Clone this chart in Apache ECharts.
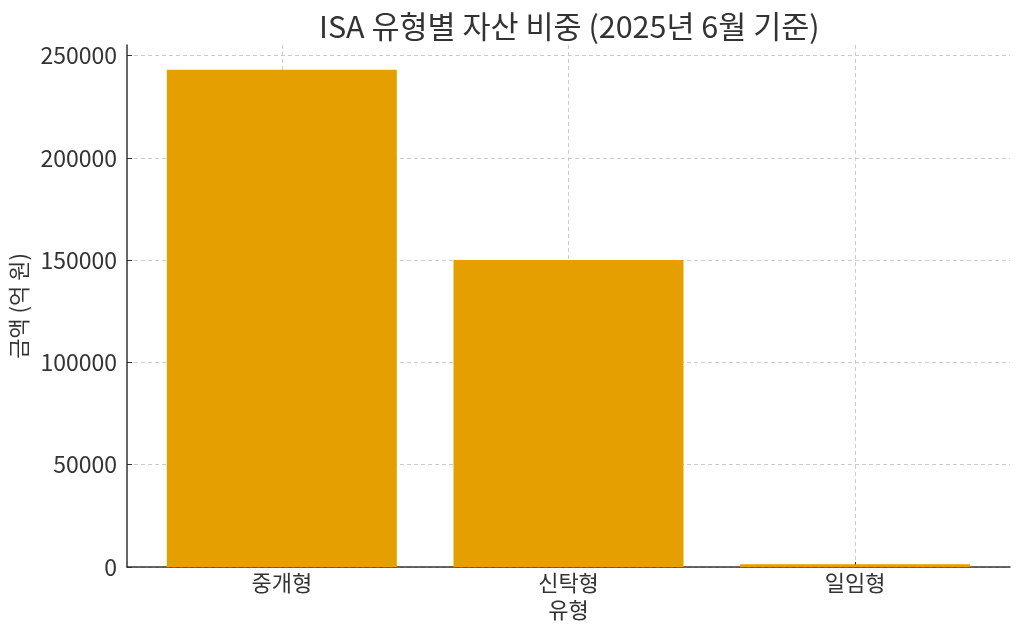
<!DOCTYPE html>
<html><head><meta charset="utf-8">
<script src="https://cdn.jsdelivr.net/npm/echarts@6/dist/echarts.min.js"></script>
<style>html,body{margin:0;padding:0;background:#fff}#c{width:1024px;height:635px}</style>
</head><body><div id="c"></div>
<script>
const categories = ['중개형', '신탁형', '일임형'];
const values = [243000, 150000, 1400];
const yTicks = [0, 50000, 100000, 150000, 200000, 250000];
const titleText = 'ISA 유형별 자산 비중 (2025년 6월 기준)';
const xName = '유형';
const yName = '금액 (억 원)';

const font = '"Noto Sans CJK KR", "Noto Sans", sans-serif';
const chart = echarts.init(document.getElementById('c'));
const idx = categories.map((_, i) => i);
chart.setOption({
  animation: false,
  textStyle: { fontFamily: font },
  title: { text: titleText, left: 314, top: 6,
    textStyle: { fontFamily: font, fontSize: 30.5, fontWeight: 'normal', color: '#333' } },
  grid: { left: 127, right: 14, top: 45, bottom: 68, containLabel: false, outerBoundsMode: 'none' },
  xAxis: {
    type: 'value', min: -0.54, max: 2.54,
    name: xName, nameLocation: 'middle', nameGap: 32,
    nameTextStyle: { fontFamily: font, fontSize: 22, color: '#333' },
    axisLine: { show: true, onZero: false, lineStyle: { color: '#333', width: 1.5 } },
    axisTick: { show: true, inside: true, length: 5, customValues: idx, lineStyle: { color: '#333' } },
    axisLabel: { customValues: idx, fontSize: 22, color: '#333', margin: 5,
      formatter: v => categories[Math.round(v)] },
    splitLine: { show: true, customValues: idx, lineStyle: { color: '#ccc', type: [4, 3] } }
  },
  yAxis: {
    type: 'value', min: 0, max: 255150,
    name: yName, nameLocation: 'middle', nameGap: 93, nameRotate: 90,
    nameTextStyle: { fontFamily: font, fontSize: 22, color: '#333' },
    axisLine: { show: true, onZero: false, lineStyle: { color: '#333', width: 1.5 } },
    axisTick: { show: true, inside: true, length: 5, customValues: yTicks, lineStyle: { color: '#333' } },
    axisLabel: { customValues: yTicks, fontSize: 23, color: '#333', margin: 10,
      formatter: v => String(v) },
    splitLine: { show: true, customValues: yTicks, lineStyle: { color: '#ccc', type: [4, 3] } }
  },
  series: [{
    type: 'bar', barWidth: 230,
    data: values.map((v, i) => [i, v]),
    itemStyle: { color: '#E69F00' }
  }]
});
</script></body></html>
